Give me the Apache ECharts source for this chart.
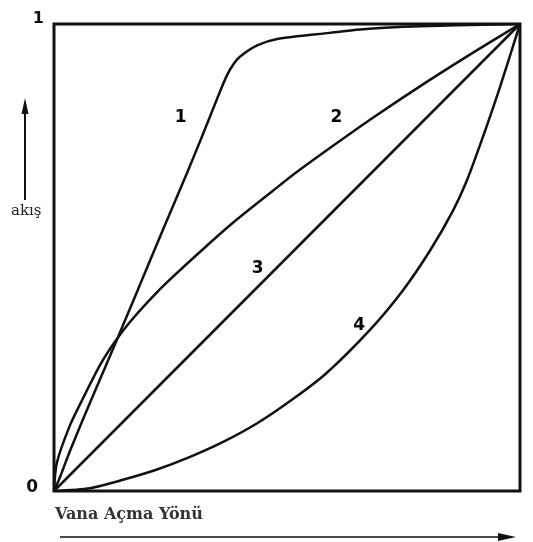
<!DOCTYPE html>
<html>
<head>
<meta charset="utf-8">
<script src="https://cdn.jsdelivr.net/npm/echarts@6/dist/echarts.min.js"></script>
<style>
html, body { margin: 0; padding: 0; background: #fff; }
#main { width: 533px; height: 542px; }
</style>
</head>
<body>
<div id="main"></div>
<script>
// eğriler: vana açıklığı (x) -> akış (y), 0..1
var curve1 = [[0, 0], [0.013, 0.03], [0.034, 0.085], [0.062, 0.153], [0.099, 0.24], [0.127, 0.305],
    [0.148, 0.355], [0.167, 0.4], [0.185, 0.443], [0.234, 0.56], [0.285, 0.68], [0.32, 0.765],
    [0.35, 0.84], [0.371, 0.89], [0.385, 0.914], [0.399, 0.93], [0.436, 0.954], [0.479, 0.968],
    [0.592, 0.981], [0.657, 0.988], [0.749, 0.994], [1, 1]];
var curve2 = [[0, 0], [0.006, 0.06], [0.034, 0.14], [0.062, 0.198], [0.099, 0.27], [0.131, 0.32],
    [0.163, 0.362], [0.206, 0.41], [0.249, 0.453], [0.341, 0.537], [0.393, 0.582], [0.485, 0.655],
    [0.521, 0.683], [0.607, 0.745], [0.678, 0.795], [0.8, 0.876], [0.908, 0.944], [1, 1]];
var curve3 = [[0, 0], [1, 1]];
var curve4 = [[0, 0], [0.077, 0.006], [0.148, 0.024], [0.221, 0.046], [0.292, 0.073], [0.363, 0.105],
    [0.436, 0.145], [0.506, 0.192], [0.582, 0.25], [0.678, 0.345], [0.749, 0.43], [0.807, 0.515],
    [0.856, 0.6], [0.886, 0.665], [0.921, 0.76], [0.957, 0.865], [1, 1]];

// eğri numaraları
var curveNames = ['1', '2', '3', '4'];
var curveLabelPos = [[0.272, 0.799], [0.606, 0.799], [0.437, 0.476], [0.655, 0.355]];

var yTicks = ['0', '1'];
var yName = 'akış';
var xName = 'Vana Açma Yönü';

var myChart = echarts.init(document.getElementById('main'));

function lineSeries(data) {
    return {
        type: 'line',
        data: data,
        smooth: 0.25,
        symbol: 'none',
        lineStyle: { color: '#111', width: 2.5 },
        silent: true
    };
}

var labelData = curveLabelPos.map(function (p, i) {
    return { value: p, name: curveNames[i] };
});

var option = {
    backgroundColor: '#fff',
    animation: false,
    grid: {
        left: 54, top: 24, width: 466, height: 467,
        show: true, borderColor: '#111', borderWidth: 3,
        backgroundColor: 'transparent'
    },
    xAxis: {
        type: 'value', min: 0, max: 1,
        axisLine: { show: false }, axisTick: { show: false },
        axisLabel: { show: false }, splitLine: { show: false }
    },
    yAxis: {
        type: 'value', min: 0, max: 1, interval: 1,
        axisLine: { show: false }, axisTick: { show: false },
        splitLine: { show: false },
        axisLabel: {
            margin: 10,
            formatter: function (v) { return v === 1 ? '{one|' + yTicks[1] + '}' : '{zero|' + yTicks[0] + '}'; },
            rich: {
                one: { color: '#111', fontFamily: 'DejaVu Sans', fontWeight: 'bold', fontSize: 16, padding: [0, 0, 10, 0] },
                zero: { color: '#111', fontFamily: 'DejaVu Sans', fontWeight: 'bold', fontSize: 17, padding: [0, 6, 6, 0] }
            }
        }
    },
    series: [
        lineSeries(curve1),
        lineSeries(curve2),
        lineSeries(curve3),
        lineSeries(curve4),
        {
            type: 'scatter',
            data: labelData,
            symbolSize: 0,
            silent: true,
            itemStyle: { opacity: 1 },
            label: {
                show: true,
                position: 'inside',
                formatter: '{b}',
                color: '#000',
                textBorderWidth: 0,
                fontFamily: 'DejaVu Sans',
                fontWeight: 'bold',
                fontSize: 17
            }
        }
    ],
    graphic: [
        // y ekseni oku
        { type: 'line', shape: { x1: 25, y1: 200, x2: 25, y2: 108 }, style: { stroke: '#111', lineWidth: 2 } },
        { type: 'polygon', shape: { points: [[25, 98], [21.5, 114], [28.5, 114]] }, style: { fill: '#111' } },
        {
            type: 'text', left: 11, top: 204,
            style: { text: yName, fill: '#222', font: '15px "DejaVu Serif"' }
        },
        // x ekseni yazısı ve oku
        {
            type: 'text', left: 55, top: 507,
            style: { text: xName, fill: '#333', font: 'bold 16px "DejaVu Serif"' }
        },
        { type: 'line', shape: { x1: 60, y1: 537, x2: 500, y2: 537 }, style: { stroke: '#111', lineWidth: 1.5 } },
        { type: 'polygon', shape: { points: [[516, 537], [498, 533], [498, 541]] }, style: { fill: '#111' } }
    ]
};

myChart.setOption(option);
</script>
</body>
</html>
